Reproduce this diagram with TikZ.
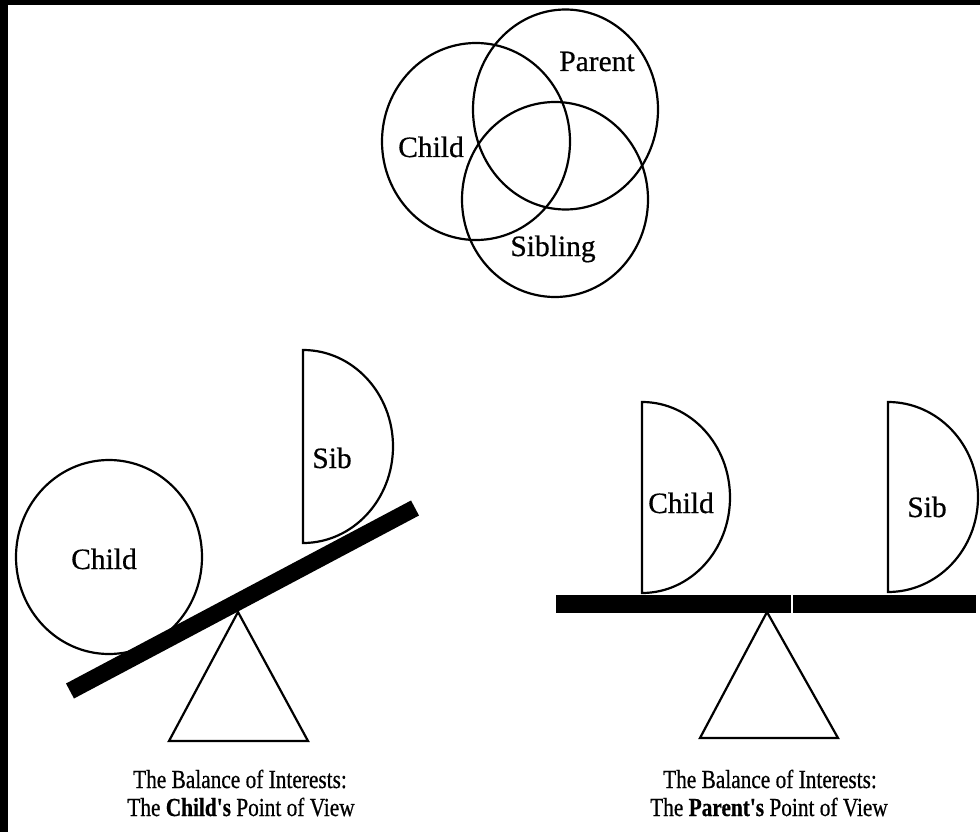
\documentclass[tikz,border=0pt]{standalone}
\usepackage{fontspec}
\setmainfont{Liberation Serif}
\newfontfamily\lblfont[FakeBold=0.6]{Liberation Serif}
\newfontfamily\capfont[FakeStretch=0.82,FakeBold=0.6]{Liberation Serif}
\begin{document}
\begin{tikzpicture}[x=1pt,y=-1pt,
  thinline/.style={line width=2.2pt},
  beam/.style={line width=17pt},
  lbl/.style={font=\lblfont\fontsize{29.5}{32}\selectfont, inner sep=0pt, anchor=base},
  captxt/.style={font=\capfont\fontsize{26}{27}\selectfont, inner sep=0pt, anchor=base},
]
\useasboundingbox (0,0) rectangle (980,832);
\fill[white] (0,0) rectangle (980,832);
\fill[black] (0,0) rectangle (980,5);
\fill[black] (0,0) rectangle (8,832);

% Venn diagram
\draw[thinline] (476,141.5) ellipse [x radius=94, y radius=98.5];
\draw[thinline] (565.5,109.5) ellipse [x radius=92.5, y radius=100];
\draw[thinline] (555,199.5) ellipse [x radius=93, y radius=97.5];
\node[lbl] (vparent) at (597,71) {Parent};
\node[lbl] (vchild) at (431,157) {Child};
\node[lbl] (vsib) at (553,256) {Sibling};

% Left seesaw: child's point of view
\draw[thinline] (109,557) ellipse [x radius=93, y radius=97];
\draw[thinline, fill=white] (303,350) arc[start angle=-90, end angle=90, x radius=90, y radius=96.5] -- cycle;
\draw[thinline, line join=miter] (238,612) -- (308,741) -- (169,741) -- cycle;
\draw[beam] (70,691) -- (415,508);
\node[lbl] (lchild) at (104,569) {Child};
\node[lbl] (lsib) at (332,468) {Sib};

% Right seesaw: parent's point of view
\draw[thinline, fill=white] (642,402) arc[start angle=-90, end angle=90, x radius=88, y radius=95.5] -- cycle;
\draw[thinline, fill=white] (888,402) arc[start angle=-90, end angle=90, x radius=90, y radius=95] -- cycle;
\draw[thinline, line join=miter] (767,612) -- (838,738) -- (700,738) -- cycle;
\draw[beam, line width=18pt] (556,604) -- (976,604);
\draw[white, line width=1.2pt] (792,594) -- (792,614);
\node[lbl] (rchild) at (681,513) {Child};
\node[lbl] (rsib) at (927,517) {Sib};

% Captions
\node[captxt] (capL1) at (240,788) {The Balance of Interests:};
\node[captxt] (capL2) at (241,816) {The \textbf{Child's} Point of View};
\node[captxt] (capR1) at (770,788) {The Balance of Interests:};
\node[captxt] (capR2) at (769,816) {The \textbf{Parent's} Point of View};
\end{tikzpicture}
\end{document}
